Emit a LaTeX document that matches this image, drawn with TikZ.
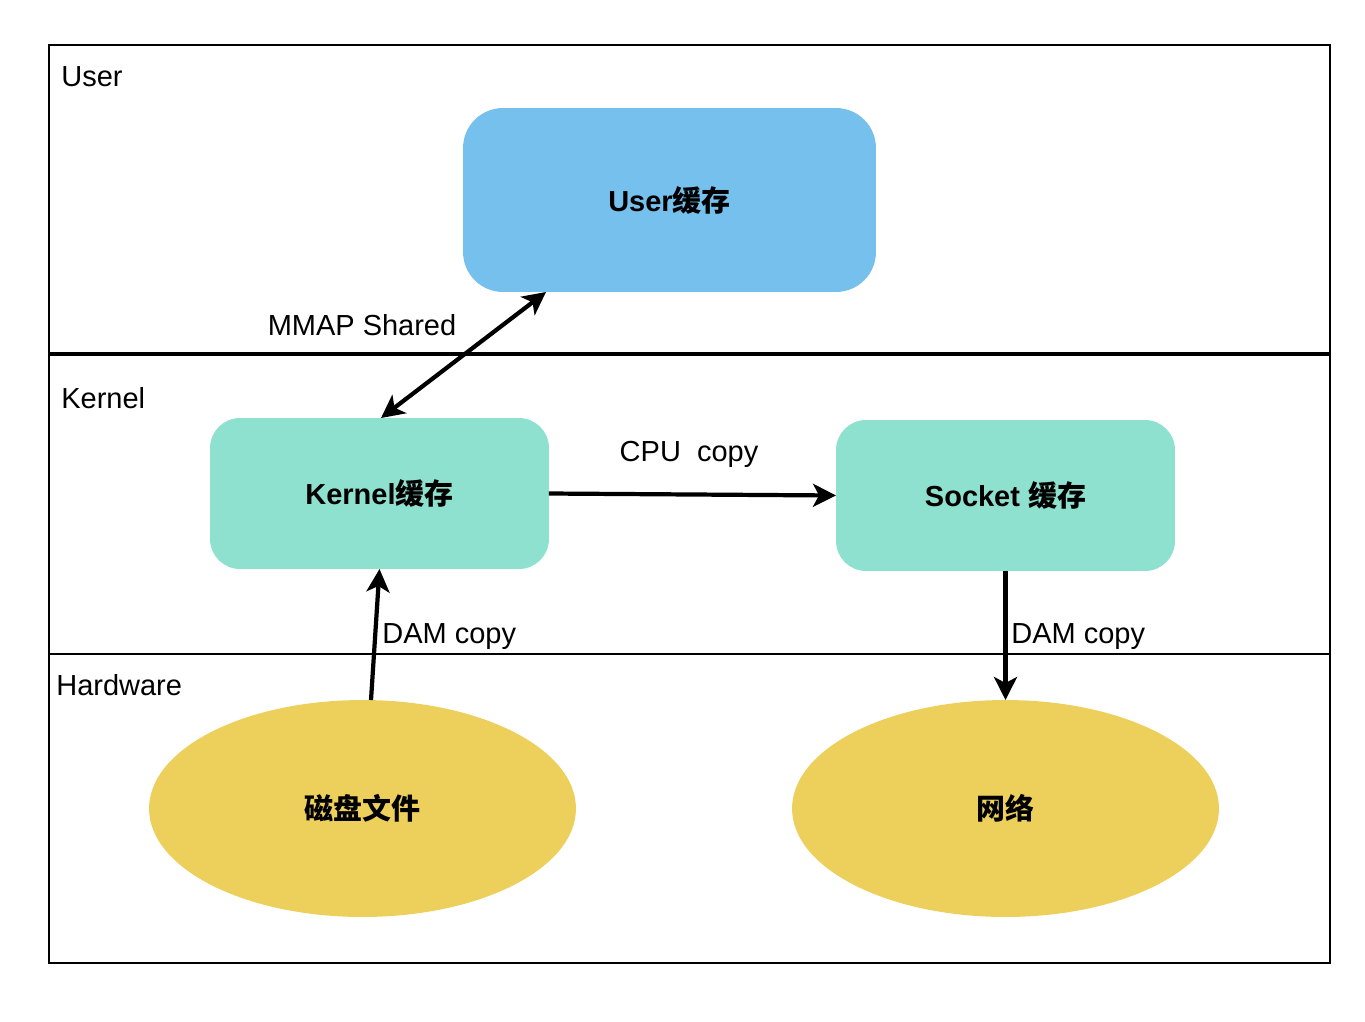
\documentclass[tikz,border=0pt]{standalone}
\usepackage{fontspec}
\setmainfont{Liberation Sans}
\newfontfamily\cjk{Noto Sans CJK SC}
\usetikzlibrary{arrows.meta,shapes.geometric}
\definecolor{userblue}{RGB}{118,192,237}
\definecolor{kernelmint}{RGB}{142,224,207}
\definecolor{hwyellow}{RGB}{237,207,92}
\tikzset{
  buf/.style={draw=none, rounded corners=0.6cm, inner sep=0pt, outer sep=0pt,
    minimum width=6.78cm, minimum height=3.02cm, fill=kernelmint,
    font=\fontsize{16.5}{20}\selectfont\bfseries},
  dev/.style={ellipse, draw=none, fill=hwyellow, inner sep=0pt, outer sep=0pt,
    minimum width=8.54cm, minimum height=4.34cm, font=\fontsize{16.5}{20}\selectfont\cjk\bfseries},
  layer/.style={anchor=west, inner sep=0pt, font=\fontsize{16.5}{20}\selectfont},
  lbl/.style={inner sep=0pt, font=\fontsize{16.5}{20}\selectfont},
  tip/.tip={Stealth[length=0.46cm, width=0.46cm, inset=0.12cm]},
  link/.style={black, line width=2.4pt, -tip}
}
\begin{document}
\begin{tikzpicture}[x=0.02cm, y=-0.02cm]
\useasboundingbox (0,0) rectangle (1365,1021);
% layers
\draw[black, line width=1.1pt](49,45) rectangle (1330,963);
\draw[black, line width=2.2pt](49,354)--(1330,354);
\draw[black, line width=1.1pt](49,654)--(1330,654);
\node[layer] (luser) at (61,77) {User};
\node[layer] (lkernel) at (61,398) {Kernel};
\node[layer] (lhw) at (56,685) {Hardware};
% buffers
\node[buf, fill=userblue, rounded corners=0.8cm, minimum width=8.26cm, minimum height=3.68cm] (ubuf) at (669.5,200) {User{\cjk 缓存}};
\node[buf] (kbuf) at (379.5,493.5) {Kernel{\cjk 缓存}};
\node[buf] (sbuf) at (1005.5,495.5) {Socket {\cjk 缓存}};
% hardware
\node[dev] (disk) at (362.5,808.5) {磁盘文件};
\node[dev] (net) at (1005.5,808.5) {网络};
% copies
\draw[link, tip-tip]([xshift=0.03cm]kbuf.north)--([xshift=1.66cm]ubuf.south west);
\node[lbl] (mmap) at (362,325) {MMAP Shared};
\draw[link](kbuf.east)--(sbuf.west);
\node[lbl] (cpu) at (689,454) {CPU\ \ copy};
\draw[link]([xshift=0.17cm]disk.north)--(kbuf.south);
\node[lbl, anchor=west] (dam1) at (382,637) {DAM copy};
\draw[link](sbuf.south)--(net.north);
\node[lbl, anchor=west] (dam2) at (1011,637) {DAM copy};
\end{tikzpicture}
\end{document}
